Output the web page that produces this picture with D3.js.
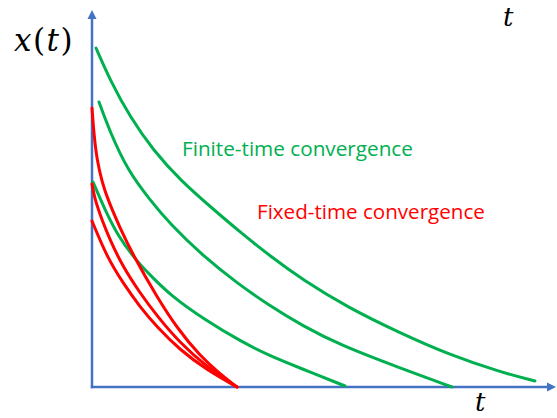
<!DOCTYPE html>
<html>
<head>
<meta charset="utf-8">
<script src="https://cdn.jsdelivr.net/npm/d3@7/dist/d3.min.js"></script>
<style>
  html, body { margin: 0; padding: 0; background: #ffffff; }
  svg { display: block; }
</style>
</head>
<body>
<svg id="chart" width="557" height="418"></svg>
<script>
// ---- data (t, x(t)), arbitrary units ----
const finiteCurve1 = [[0.04,3.39],[0.18,3.07],[0.38,2.70],[0.61,2.37],[0.88,2.07],[1.21,1.78],[1.48,1.55],[1.78,1.31],[2.11,1.07],[2.55,0.80],[3.08,0.54],[3.58,0.32],[4.08,0.15],[4.43,0.06]];
const finiteCurve2 = [[0.07,2.85],[0.18,2.55],[0.36,2.16],[0.58,1.87],[0.78,1.63],[1.11,1.31],[1.45,1.04],[1.78,0.81],[2.11,0.61],[2.48,0.42],[3.08,0.19],[3.60,0.00]];
const finiteCurve3 = [[0.01,2.05],[0.13,1.77],[0.26,1.51],[0.43,1.28],[0.58,1.12],[0.78,0.92],[1.13,0.67],[1.50,0.45],[1.78,0.31],[2.08,0.19],[2.53,0.01]];
const fixedCurve1 = [[0.00,2.79],[0.02,2.52],[0.05,2.27],[0.10,2.05],[0.16,1.87],[0.28,1.59],[0.41,1.32],[0.65,0.90],[0.85,0.59],[1.08,0.31],[1.28,0.13],[1.45,0.00]];
const fixedCurve2 = [[0.00,2.03],[0.03,1.87],[0.10,1.67],[0.18,1.47],[0.31,1.20],[0.48,0.94],[0.65,0.71],[0.88,0.44],[1.15,0.20],[1.45,0.00]];
const fixedCurve3 = [[0.00,1.66],[0.15,1.30],[0.31,1.04],[0.48,0.80],[0.65,0.60],[0.88,0.37],[1.15,0.17],[1.45,0.00]];

const finiteCurves = [finiteCurve1, finiteCurve2, finiteCurve3];
const fixedCurves = [fixedCurve1, fixedCurve2, fixedCurve3];
const seriesLabels = ["Finite-time convergence", "Fixed-time convergence"];
const tDomain = [0, 4.64];
const xDomain = [0, 3.77];

// ---- drawing ----
const svg = d3.select("#chart");
const axisColor = "#4472C4";
const greenColor = "#00B050";
const redColor = "#FF0000";

const xScale = d3.scaleLinear().domain(tDomain).range([92, 556]);
const yScale = d3.scaleLinear().domain(xDomain).range([387, 10]);

// axes (no ticks)
const gx = svg.append("g").attr("transform", `translate(0,${yScale(0)})`)
  .call(d3.axisBottom(xScale).tickValues([]).tickSizeOuter(0));
const gy = svg.append("g").attr("transform", `translate(${xScale(0)},0)`)
  .call(d3.axisLeft(yScale).tickValues([]).tickSizeOuter(0));
[gx, gy].forEach(g => g.select(".domain")
  .attr("stroke", axisColor).attr("stroke-width", 2.5));
gx.select(".domain").attr("d", `M${xScale(0) - 1.25},0H${xScale(tDomain[1]) - 6}`);
gy.select(".domain").attr("d", `M0,${yScale(0) + 1.25}V${yScale(xDomain[1]) + 6}`);

// arrowheads
const xt = xScale(tDomain[1]), y0 = yScale(0);
svg.append("path")
  .attr("d", `M${xt},${y0} L${xt - 9},${y0 - 4.5} L${xt - 9},${y0 + 4.5} Z`)
  .attr("fill", axisColor);
const x0 = xScale(0), yt = yScale(xDomain[1]);
svg.append("path")
  .attr("d", `M${x0},${yt} L${x0 - 4.5},${yt + 9} L${x0 + 4.5},${yt + 9} Z`)
  .attr("fill", axisColor);

// curves
const line = d3.line()
  .x(d => xScale(d[0]))
  .y(d => yScale(d[1]))
  .curve(d3.curveBasis);

svg.append("g").selectAll("path").data(finiteCurves).join("path")
  .attr("d", line)
  .attr("fill", "none")
  .attr("stroke", greenColor)
  .attr("stroke-width", 3)
  .attr("stroke-linecap", "round");

svg.append("g").selectAll("path").data(fixedCurves).join("path")
  .attr("d", line)
  .attr("fill", "none")
  .attr("stroke", redColor)
  .attr("stroke-width", 3)
  .attr("stroke-linecap", "round");

// series labels, fitted to reference widths
function fitText(sel, targetW, startSize) {
  sel.attr("font-size", startSize);
  const w = sel.node().getComputedTextLength();
  sel.attr("font-size", startSize * targetW / w);
}
const lab1 = svg.append("text").text(seriesLabels[0])
  .attr("x", 182).attr("y", 156)
  .attr("fill", greenColor)
  .style("font-variant-ligatures", "none")
  .attr("font-family", "'Open Sans', Lato, sans-serif");
fitText(lab1, 231, 20);
const lab2 = svg.append("text").text(seriesLabels[1])
  .attr("x", 257).attr("y", 219)
  .attr("fill", redColor)
  .style("font-variant-ligatures", "none")
  .attr("font-family", "'Open Sans', Lato, sans-serif");
fitText(lab2, 228, 20);

// math labels
const mathFont = "'DejaVu Serif', 'Liberation Serif', serif";
const yLab = svg.append("text").attr("x", 14).attr("y", 51)
  .attr("font-family", mathFont).attr("font-size", 31)
  .attr("letter-spacing", 1.5).attr("fill", "#000");
yLab.append("tspan").attr("font-style", "italic").text("x");
yLab.append("tspan").text("(");
yLab.append("tspan").attr("font-style", "italic").text("t");
yLab.append("tspan").text(")");

svg.append("text").attr("x", 503).attr("y", 26)
  .attr("font-family", mathFont).attr("font-size", 26)
  .attr("font-style", "italic").attr("fill", "#000").text("t");
svg.append("text").attr("x", 475).attr("y", 411)
  .attr("font-family", mathFont).attr("font-size", 26)
  .attr("font-style", "italic").attr("fill", "#000").text("t");
</script>
</body>
</html>
